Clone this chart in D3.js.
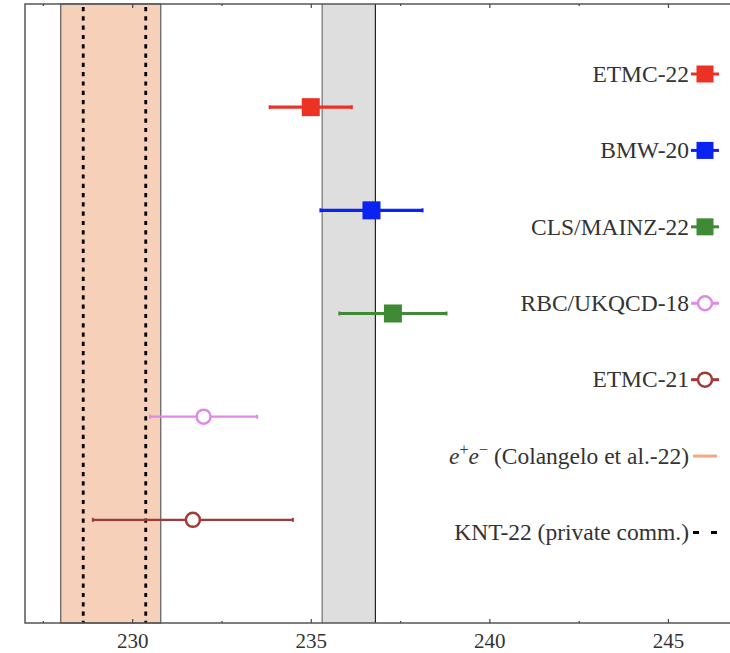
<!DOCTYPE html>
<html>
<head>
<meta charset="utf-8">
<script src="https://cdn.jsdelivr.net/npm/d3@7"></script>
<style>
  body { margin: 0; background: #fff; }
  svg text { font-family: "Liberation Serif", "DejaVu Serif", serif; fill: #333; }
</style>
</head>
<body>
<script>
'use strict';

// lattice / data-driven results, top to bottom
var names  = ["ETMC-22", "BMW-20", "CLS/MAINZ-22", "RBC/UKQCD-18", "ETMC-21"];
var values = [235.0, 236.7, 237.3, 232.0, 231.7];
var errors = [1.15, 1.43, 1.5, 1.5, 2.8];
var shapes = ["square", "square", "square", "circle", "circle"];
var colors = ["#ec3224", "#0a22f2", "#3f8a34", "#de8ae6", "#a23a3a"];

// e+e- band and KNT-22 dashed limits
var eeBand  = [228.0, 230.8];
var kntLims = [228.63, 230.38];
// grey band
var greyBand = [235.32, 236.81];

var majorTicks = [230, 235, 240, 245];
var minorTicks = [227.5, 232.5, 237.5, 242.5];

var width = 730, height = 653;
var plotLeft = 25, plotTop = 4, plotBottom = 623;

var svg = d3.select("body").append("svg")
    .attr("width", width)
    .attr("height", height);

var x = d3.scaleLinear().domain([227, 247]).range([plotLeft, plotLeft + 20 * 35.72]);
var y = d3.scaleLinear().domain([0, 6]).range([plotTop, plotBottom]);
var ly = d3.scaleLinear().domain([0, 6]).range([74, 532.5]);

// bands
svg.append("rect")
    .attr("x", x(eeBand[0]))
    .attr("y", plotTop)
    .attr("width", x(eeBand[1]) - x(eeBand[0]))
    .attr("height", plotBottom - plotTop)
    .attr("fill", "#f6d0b8")
    .attr("stroke", "#666")
    .attr("stroke-width", 1.3);

svg.append("rect")
    .attr("x", x(greyBand[0]))
    .attr("y", plotTop)
    .attr("width", x(greyBand[1]) - x(greyBand[0]))
    .attr("height", plotBottom - plotTop)
    .attr("fill", "#dedede");
svg.append("line")
    .attr("x1", x(greyBand[0])).attr("x2", x(greyBand[0]))
    .attr("y1", plotTop).attr("y2", plotBottom)
    .attr("stroke", "#888").attr("stroke-width", 1.5);
svg.append("line")
    .attr("x1", x(greyBand[1])).attr("x2", x(greyBand[1]))
    .attr("y1", plotTop).attr("y2", plotBottom)
    .attr("stroke", "#222").attr("stroke-width", 1.2);

// KNT-22 dashed lines
svg.selectAll(".knt")
    .data(kntLims)
    .enter().append("line")
    .attr("class", "knt")
    .attr("x1", function(d) { return x(d); })
    .attr("x2", function(d) { return x(d); })
    .attr("y1", plotTop + 3)
    .attr("y2", plotBottom)
    .attr("stroke", "#000")
    .attr("stroke-width", 2.8)
    .attr("stroke-dasharray", "4.2,5.1");

// frame
svg.append("path")
    .attr("d", "M" + (x(247) + 5) + "," + plotTop + "H" + plotLeft + "V" + plotBottom + "H" + (x(247) + 5))
    .attr("fill", "none")
    .attr("stroke", "#555")
    .attr("stroke-width", 1.5);

// axes, ticks point inward
var xb = svg.append("g")
    .attr("transform", "translate(0," + plotBottom + ")")
    .call(d3.axisBottom(x).tickValues(majorTicks).tickSize(-4).tickPadding(10));
xb.select(".domain").remove();
xb.selectAll("line").attr("stroke", "#444").attr("stroke-width", 1.2);
xb.selectAll("text").attr("font-size", 21).attr("fill", "#333");

var xbm = svg.append("g")
    .attr("transform", "translate(0," + plotBottom + ")")
    .call(d3.axisBottom(x).tickValues(minorTicks).tickSize(-2).tickFormat(""));
xbm.select(".domain").remove();
xbm.selectAll("line").attr("stroke", "#444").attr("stroke-width", 1.2);

var xt = svg.append("g")
    .attr("transform", "translate(0," + plotTop + ")")
    .call(d3.axisTop(x).tickValues(majorTicks).tickSize(-4).tickFormat(""));
xt.select(".domain").remove();
xt.selectAll("line").attr("stroke", "#444").attr("stroke-width", 1.2);

var xtm = svg.append("g")
    .attr("transform", "translate(0," + plotTop + ")")
    .call(d3.axisTop(x).tickValues(minorTicks).tickSize(-2).tickFormat(""));
xtm.select(".domain").remove();
xtm.selectAll("line").attr("stroke", "#444").attr("stroke-width", 1.2);

// draws a marker (square or circle) centred at cx, cy
function marker(g, shape, color, cx, cy, size) {
    if (shape === "square") {
        g.append("rect")
            .attr("x", cx - size / 2)
            .attr("y", cy - size / 2)
            .attr("width", size)
            .attr("height", size)
            .attr("fill", color);
    } else {
        g.append("circle")
            .attr("cx", cx)
            .attr("cy", cy)
            .attr("r", 7)
            .attr("fill", "#fff")
            .attr("stroke", color)
            .attr("stroke-width", 2.5);
    }
}

// error bars
names.forEach(function(name, i) {
    var g = svg.append("g");
    var cy = y(i + 1);
    var lw = shapes[i] === "square" ? 3.2 : 2.4;
    g.append("line")
        .attr("x1", x(values[i] - errors[i]))
        .attr("x2", x(values[i] + errors[i]))
        .attr("y1", cy).attr("y2", cy)
        .attr("stroke", colors[i])
        .attr("stroke-width", lw);
    [values[i] - errors[i], values[i] + errors[i]].forEach(function(v) {
        g.append("line")
            .attr("x1", x(v)).attr("x2", x(v))
            .attr("y1", cy - 2).attr("y2", cy + 2)
            .attr("stroke", colors[i])
            .attr("stroke-width", 2);
    });
    marker(g, shapes[i], colors[i], x(values[i]), cy, 18);
});

// legend
var lx = 705, tx = 689, lfs = 23.5;
names.forEach(function(name, i) {
    var g = svg.append("g");
    var cy = ly(i);
    g.append("text")
        .attr("x", tx).attr("y", cy)
        .attr("dy", "0.33em")
        .attr("text-anchor", "end")
        .attr("font-size", lfs)
        .text(name);
    g.append("line")
        .attr("x1", lx - 14).attr("x2", lx + 14)
        .attr("y1", cy).attr("y2", cy)
        .attr("stroke", colors[i])
        .attr("stroke-width", 3);
    marker(g, shapes[i], colors[i], lx, cy, 17);
});

var ee = svg.append("text")
    .attr("x", tx).attr("y", ly(5))
    .attr("dy", "0.33em")
    .attr("text-anchor", "end")
    .attr("font-size", lfs);
ee.append("tspan").attr("font-style", "italic").text("e");
ee.append("tspan").attr("font-size", 16).attr("dy", "-0.55em").text("+");
ee.append("tspan").attr("font-style", "italic").attr("dy", "0.37em").text("e");
ee.append("tspan").attr("font-size", 16).attr("dy", "-0.55em").text("\u2212");
ee.append("tspan").attr("dy", "0.37em").text(" (Colangelo et al.-22)");
svg.append("line")
    .attr("x1", lx - 12).attr("x2", lx + 12)
    .attr("y1", ly(5)).attr("y2", ly(5))
    .attr("stroke", "#f4a582")
    .attr("stroke-width", 3);

svg.append("text")
    .attr("x", tx).attr("y", ly(6))
    .attr("dy", "0.33em")
    .attr("text-anchor", "end")
    .attr("font-size", lfs)
    .text("KNT-22 (private comm.)");
svg.append("line")
    .attr("x1", lx - 12).attr("x2", lx + 12)
    .attr("y1", ly(6)).attr("y2", ly(6))
    .attr("stroke", "#000")
    .attr("stroke-width", 3)
    .attr("stroke-dasharray", "6,12");
</script>
</body>
</html>
